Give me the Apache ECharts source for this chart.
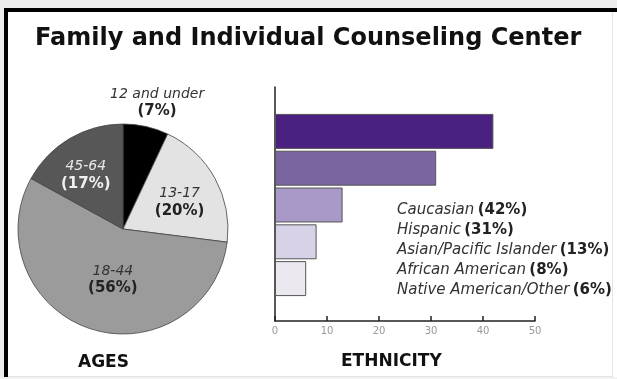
<!DOCTYPE html>
<html><head><meta charset="utf-8">
<script src="https://cdn.jsdelivr.net/npm/echarts@6/dist/echarts.min.js"></script>
<style>html,body{margin:0;padding:0;background:#fff}#c{width:617px;height:379px}</style>
</head><body><div id="c"></div>
<script>
const titleText = 'Family and Individual Counseling Center';
const ageCategories = ['12 and under', '13-17', '18-44', '45-64'];
const ageValues = [7, 20, 56, 17];
const ageColors = ['#000000', '#e3e3e3', '#9b9b9b', '#575757'];
const ethnicCategories = ['Caucasian', 'Hispanic', 'Asian/Pacific Islander', 'African American', 'Native American/Other'];
const ethnicValues = [42, 31, 13, 8, 6];
const ethnicColors = ['#4a2080', '#7a65a0', '#a899c9', '#d8d2e8', '#ebe8f0'];
const xTicks = [0, 10, 20, 30, 40, 50];

const chart = echarts.init(document.getElementById('c'), null, {renderer: 'canvas'});
const labelOffsets = [[22, -72], [8, 0], [7, -2], [-9, -6]];
const labelColors = ['#333', '#333', '#333', '#e8e8e8'];
const pctColors = ['#222', '#222', '#222', '#f0f0f0'];

const pieData = ageCategories.map((n, i) => ({
  name: n, value: ageValues[i],
  itemStyle: {color: ageColors[i]},
  label: {
    offset: labelOffsets[i],
    rich: {
      n: {fontFamily: 'DejaVu Sans', fontStyle: 'italic', fontSize: 14, color: labelColors[i], lineHeight: 17},
      p: {fontFamily: 'DejaVu Sans', fontWeight: 'bold', fontSize: 15, color: pctColors[i], lineHeight: 17}
    }
  }
}));

const legendLines = ethnicCategories.map((n, i) => '{n|' + n + '} {p|(' + ethnicValues[i] + '%)}').join('\n');

chart.setOption({
  animation: false,
  backgroundColor: '#ffffff',
  graphic: [
    {type: 'rect', shape: {x: 0, y: 0, width: 617, height: 8}, style: {fill: '#ededed'}, z: -10},
    {type: 'rect', shape: {x: 0, y: 0, width: 4, height: 379}, style: {fill: '#ededed'}, z: -10},
    {type: 'rect', shape: {x: 4, y: 8, width: 613, height: 4}, style: {fill: '#000'}},
    {type: 'rect', shape: {x: 4, y: 8, width: 4, height: 371}, style: {fill: '#000'}},
    {type: 'rect', shape: {x: 612, y: 12, width: 1, height: 364}, style: {fill: '#e4e4e4'}},
    {type: 'rect', shape: {x: 8, y: 376, width: 605, height: 1}, style: {fill: '#e4e4e4'}},
    {type: 'rect', shape: {x: 0, y: 377, width: 617, height: 2}, style: {fill: '#f2f2f2'}},
    {type: 'text', left: 35, top: 27, style: {text: titleText, font: 'bold 24px "DejaVu Sans"', fill: '#111'}},
    {type: 'text', left: 78, top: 354, style: {text: 'AGES', font: 'bold 17px "DejaVu Sans"', fill: '#111'}},
    {type: 'text', left: 341, top: 353, style: {text: 'ETHNICITY', font: 'bold 17px "DejaVu Sans"', fill: '#111'}},
    {type: 'text', left: 397, top: 203, style: {
      text: legendLines,
      rich: {
        n: {fontFamily: 'DejaVu Sans', fontStyle: 'italic', fontSize: 15, fill: '#333', lineHeight: 20},
        p: {fontFamily: 'DejaVu Sans', fontWeight: 'bold', fontSize: 15, fill: '#222', lineHeight: 20}
      }
    }}
  ],
  grid: [
    {left: 275, right: 82, top: 87, bottom: 58},
    {left: 275, right: 82, top: 113, bottom: 82}
  ],
  xAxis: [
    {gridIndex: 0, type: 'value', min: 0, max: 50, interval: 10,
      axisLine: {show: true, lineStyle: {color: '#222', width: 1.5}},
      axisTick: {show: true, inside: true, length: 5, lineStyle: {color: '#222', width: 1.5}},
      splitLine: {show: false},
      axisLabel: {color: '#999', fontFamily: 'DejaVu Sans', fontSize: 10, margin: 5,
        formatter: v => xTicks.includes(v) ? String(v) : ''}},
    {gridIndex: 1, type: 'value', min: 0, max: 50, show: false}
  ],
  yAxis: [
    {gridIndex: 0, type: 'category', data: ethnicCategories, inverse: true,
      axisLine: {show: true, lineStyle: {color: '#222', width: 1.5}},
      axisTick: {show: false}, axisLabel: {show: false}, splitLine: {show: false}},
    {gridIndex: 1, type: 'category', data: ethnicCategories, inverse: true, show: false}
  ],
  series: [
    {type: 'pie', center: [123, 229], radius: 105, startAngle: 90, clockwise: true,
      data: pieData,
      itemStyle: {borderColor: '#444', borderWidth: 0.8},
      label: {show: true, position: 'inside', formatter: p => '{n|' + p.name + '}\n{p|(' + p.value + '%)}'},
      labelLine: {show: false}, emphasis: {disabled: true}},
    {type: 'bar', xAxisIndex: 1, yAxisIndex: 1, barCategoryGap: '5%',
      data: ethnicValues.map((v, i) => ({value: v, itemStyle: {color: ethnicColors[i]}})),
      itemStyle: {borderColor: '#555', borderWidth: 1}}
  ]
});
</script></body></html>
